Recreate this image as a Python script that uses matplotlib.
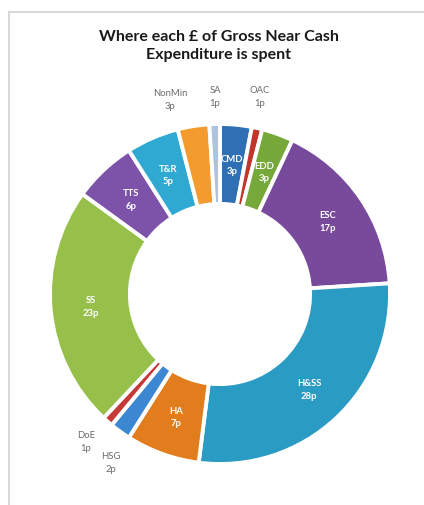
import numpy as np
import matplotlib
matplotlib.use("Agg")
import matplotlib.pyplot as plt
from matplotlib.lines import Line2D

plt.rcParams['font.family'] = ['Lato', 'DejaVu Sans']

# Pence of each pound of gross near cash expenditure, clockwise from the top
categories = ["CMD", "OAC", "EDD", "ESC", "H&SS", "HA", "HSG", "DoE",
              "SS", "TTS", "T&R", "NonMin", "SA"]
pence = [3, 1, 3, 17, 28, 7, 2, 1, 23, 6, 5, 3, 1]
colors = ["#2f6fb3", "#c0352c", "#76a83a", "#784a9c", "#2a9bc2", "#e27d1e",
          "#3b87d2", "#c43a36", "#96c04a", "#7c53a8", "#2fa9d2", "#f39b2f",
          "#a9c3e0"]

W, H = 424, 506
cx, cy, R = 220, 295, 170     # centre and outer radius in pixels

# narrow slices get their label outside the ring, at these pixel spots
outside_xy = {"NonMin": (170, 100), "SA": (215, 97), "OAC": (260, 97),
              "DoE": (86, 442), "HSG": (111, 463)}

fig = plt.figure(figsize=(W / 100, H / 100), dpi=100)
ax = fig.add_axes([0, 0, 1, 1])

wedges, _ = ax.pie(pence, colors=colors, startangle=90, counterclock=False,
                   radius=1.0,
                   wedgeprops=dict(width=0.47, edgecolor="white", linewidth=2.8))

ax.set_xlim(-cx / R, (W - cx) / R)
ax.set_ylim(-(H - cy) / R, cy / R)
ax.set_aspect("auto")
ax.axis("off")

total = sum(pence)
cum = 0.0
for name, val in zip(categories, pence):
    mid = cum + val / 2
    cum += val
    text = f"{name}\n{val}p"
    if name in outside_xy:
        px, py = outside_xy[name]
        ax.text((px - cx) / R, (cy - py) / R, text, ha="center", va="center",
                fontsize=6.8, color="#6b6b6b", linespacing=1.55)
    else:
        ang = np.deg2rad(90 - 360 * mid / total)
        r = 0.765
        ax.text(r * np.cos(ang), r * np.sin(ang), text, ha="center", va="center",
                fontsize=6.8, color="white", fontweight="bold", linespacing=1.5)

fig.text(219 / W, 1 - 46 / H, "Where each £ of Gross Near Cash\nExpenditure is spent",
         ha="center", va="center", fontsize=11.5, fontweight="bold",
         color="#1a1a1a", linespacing=1.45)

# chart area frame (top and left edges)
fig.add_artist(Line2D([9 / W, 9 / W], [0, 1 - 13 / H], transform=fig.transFigure,
                      color="#d9d9d9", linewidth=1.5))
fig.add_artist(Line2D([9 / W, 1], [1 - 13 / H, 1 - 13 / H], transform=fig.transFigure,
                      color="#d9d9d9", linewidth=1.5))

fig.savefig("out.png", dpi=100, facecolor="white")
